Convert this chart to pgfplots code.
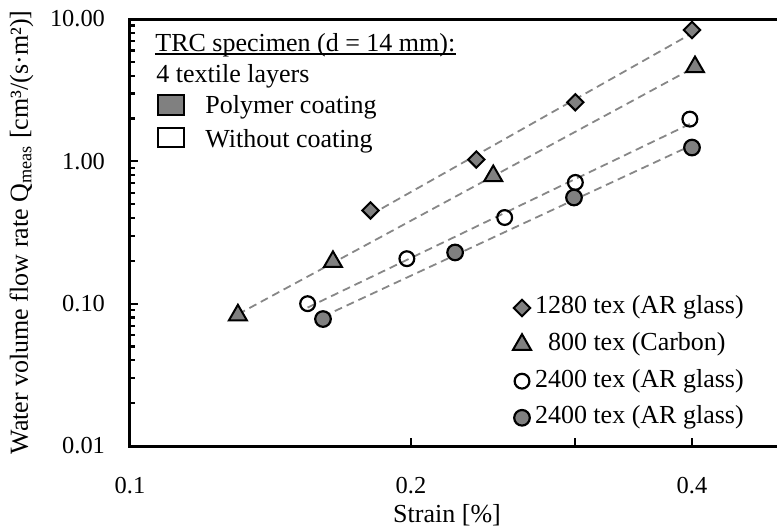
\documentclass[border=0pt]{standalone}
\usepackage{pgfplots}
\pgfplotsset{compat=1.18}
\usepackage{fontspec}
\setmainfont{Liberation Serif}
\definecolor{mgray}{RGB}{128,128,128}
\definecolor{lgray}{RGB}{135,135,135}
\begin{document}
\fontsize{13}{15.5}\selectfont
\begin{tikzpicture}[font=\fontsize{13}{15.5}\selectfont]
\begin{axis}[
  name=ax,
  scale only axis,
  width=323.5pt, height=213.5pt,
  xmode=log, ymode=log,
  xmin=0.1, xmax=0.4933,
  ymin=0.01, ymax=10,
  axis x line*=box, axis y line*=left,
  axis line style={line width=1.5pt, line cap=rect},
  xtick pos=left, ytick pos=left,
  tick align=inside,
  xtick={0.1,0.2,0.3,0.4},
  xticklabels={0.1,0.2,,0.4},
  ytick={0.01,0.1,1,10},
  yticklabels={0.01,0.10,1.00,10.00},
  minor ytick={0.02,0.03,0.04,0.05,0.06,0.07,0.08,0.09,0.2,0.3,0.4,0.5,0.6,0.7,0.8,0.9,2,3,4,5,6,7,8,9},
  minor xtick={},
  major tick length=4pt,
  minor tick length=2.5pt,
  every tick/.style={black, line width=1.1pt},
  every tick label/.append style={font=\fontsize{12.2}{14}\selectfont},
  xticklabel shift=11pt,
  yticklabel shift=8pt,
  xticklabel style={font=\fontsize{12.2}{14}\selectfont},
  yticklabel style={font=\fontsize{12.2}{14}\selectfont},
  xlabel={Strain [\%]},
  xlabel style={at={(axis description cs:0.49,-0.180)}, anchor=base, font=\fontsize{13}{15.5}\selectfont},
  ylabel={Water volume flow rate Q\textsubscript{meas} [cm³/(s·m²)]},
  ylabel style={at={(axis description cs:-0.158,0.5)}, anchor=base, font=\fontsize{13}{15.5}\selectfont},
  legend cell align=left,
  legend image code/.code={\draw[#1] plot coordinates {(0.15cm,0cm)}; \path (0cm,0cm) (0.272cm,0cm);},
  legend style={draw=none, fill=none, inner sep=0pt, outer sep=0pt,
    at={(axis description cs:0.592,0.3607)}, anchor=north west,
    row sep=2.3pt,
    nodes={inner sep=2pt, text height=9pt, text depth=3pt},
    font=\fontsize{13}{15.5}\selectfont},
  clip=false,
]
% trend lines
\addplot[forget plot, lgray, line width=0.9pt, dash pattern=on 4pt off 2.5pt] coordinates {(0.181,0.421) (0.40,7.93)};
\addplot[forget plot, lgray, line width=0.9pt, dash pattern=on 4pt off 2.5pt] coordinates {(0.1305,0.0842) (0.403,4.6)};
\addplot[forget plot, lgray, line width=0.9pt, dash pattern=on 4pt off 2.5pt] coordinates {(0.155,0.0939) (0.398,1.83)};
\addplot[forget plot, lgray, line width=0.9pt, dash pattern=on 4pt off 2.5pt] coordinates {(0.161,0.0812) (0.40,1.30)};
% data
\addplot[only marks, mark=square*, mark size=2.9pt, mark options={rotate=45, fill=mgray, draw=black, line width=1pt}]
  coordinates {(0.181,0.452) (0.235,1.03) (0.30,2.60) (0.40,8.37)};
\addlegendentry{1280 tex (AR glass)}
\addplot[only marks, mark=triangle*, mark size=5.2pt, mark options={fill=mgray, draw=black, line width=1pt}]
  coordinates {(0.1305,0.083) (0.165,0.197) (0.245,0.79) (0.403,4.6)};
\addlegendentry{\phantom{1}800 tex (Carbon)}
\addplot[only marks, mark=o, mark size=3.7pt, mark options={fill=white, draw=black, line width=1.1pt}]
  coordinates {(0.155,0.10) (0.198,0.207) (0.252,0.403) (0.30,0.711) (0.398,1.98)};
\addlegendentry{2400 tex (AR glass)}
\addplot[only marks, mark=*, mark size=3.9pt, mark options={fill=mgray, draw=black, line width=1.1pt}]
  coordinates {(0.161,0.078) (0.223,0.229) (0.299,0.557) (0.40,1.25)};
\addlegendentry{2400 tex (AR glass)}
% annotation box
\node[anchor=base west, inner sep=0pt] (trc) at ([shift={(12.5pt,-16.2pt)}]rel axis cs:0,1) {TRC specimen (d = 14 mm):};
\draw[line width=0.7pt] ([yshift=-1.3pt]trc.base west) -- ([yshift=-1.3pt]trc.base east);
\node[anchor=base west, inner sep=0pt] at ([shift={(13pt,-31.8pt)}]rel axis cs:0,1) {4 textile layers};
\draw[fill=mgray, line width=1.1pt] ([shift={(14pt,-38pt)}]rel axis cs:0,1) rectangle ([shift={(27pt,-48pt)}]rel axis cs:0,1);
\node[anchor=base west, inner sep=0pt] at ([shift={(37.5pt,-47.3pt)}]rel axis cs:0,1) {Polymer coating};
\draw[fill=white, line width=1.1pt] ([shift={(14pt,-54.5pt)}]rel axis cs:0,1) rectangle ([shift={(27pt,-64pt)}]rel axis cs:0,1);
\node[anchor=base west, inner sep=0pt] at ([shift={(37.5pt,-64.3pt)}]rel axis cs:0,1) {Without coating};
\coordinate (bl) at (rel axis cs:0,0);
\coordinate (tr) at (rel axis cs:1,1);
\end{axis}
\pgfresetboundingbox
\path ([shift={(-65pt,-41.5pt)}]bl) rectangle ([shift={(0pt,9.5pt)}]tr);
\end{tikzpicture}
\end{document}
